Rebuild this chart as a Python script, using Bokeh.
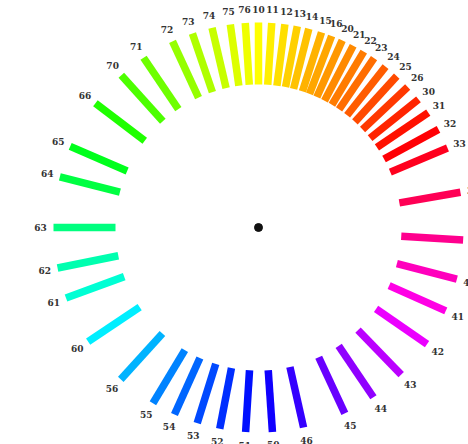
import colorsys
import numpy as np
from bokeh.plotting import figure
from bokeh.models import ColumnDataSource
from bokeh.core.properties import value
from bokeh.embed import file_html
from bokeh.resources import INLINE

# Item labels and their hue (degrees) on the colour wheel
labels = ["10", "11", "12", "13", "14", "15", "16",
          "20", "21", "22", "23", "24", "25", "26",
          "30", "31", "32", "33", "34", "35",
          "40", "41", "42", "43", "44", "45", "46",
          "50", "51", "52", "53", "54", "55", "56",
          "60", "61", "62", "63", "64", "65", "66",
          "70", "71", "72", "73", "74", "75", "76"]
hues = [60.0, 56.3, 52.6, 49.1, 45.8, 42.1, 39.1,
        35.9, 32.5, 29.1, 25.7, 21.7, 17.6, 13.3,
        8.7, 4.1, 358.6, 352.8, 339.9, 326.5,
        315.4, 306.0, 295.3, 284.1, 274.1, 264.9, 252.7,
        243.9, 236.4, 229.1, 222.6, 215.8, 209.0, 197.8,
        183.8, 170.1, 161.4, 150.0, 135.7, 126.7, 112.7,
        102.0, 94.1, 84.8, 78.8, 73.1, 67.9, 63.7]

R_IN, R_OUT, R_LABEL = 143, 205, 218
HUE_OFFSET = 30  # hue 60 (yellow) sits at the top

h = np.array(hues)
theta = np.deg2rad(h + HUE_OFFSET)
colors = []
for hv in hues:
    r, g, b = colorsys.hsv_to_rgb((hv % 360) / 360.0, 1.0, 1.0)
    colors.append("#%02x%02x%02x" % (int(r * 255), int(g * 255), int(b * 255)))

src = ColumnDataSource(dict(
    x0=R_IN * np.cos(theta), y0=R_IN * np.sin(theta),
    x1=R_OUT * np.cos(theta), y1=R_OUT * np.sin(theta),
    lx=R_LABEL * np.cos(theta), ly=R_LABEL * np.sin(theta),
    label=labels, color=colors,
))

p = figure(width=468, height=444, x_range=(-258, 210), y_range=(-217, 227),
           output_backend="svg", toolbar_location=None, min_border=0)
p.axis.visible = False
p.grid.visible = False
p.outline_line_color = None
p.background_fill_color = "white"

p.segment("x0", "y0", "x1", "y1", source=src, line_color="color",
          line_width=7.5, line_cap="butt")
p.text("lx", "ly", text="label", source=src, text_align="center",
       text_baseline="middle", text_font=value("DejaVu Serif"),
       text_font_style="bold", text_font_size="9px", text_color="#333333")
p.scatter([0], [0], size=8, color="#111111")

open("out.html", "w").write(file_html(p, INLINE))
